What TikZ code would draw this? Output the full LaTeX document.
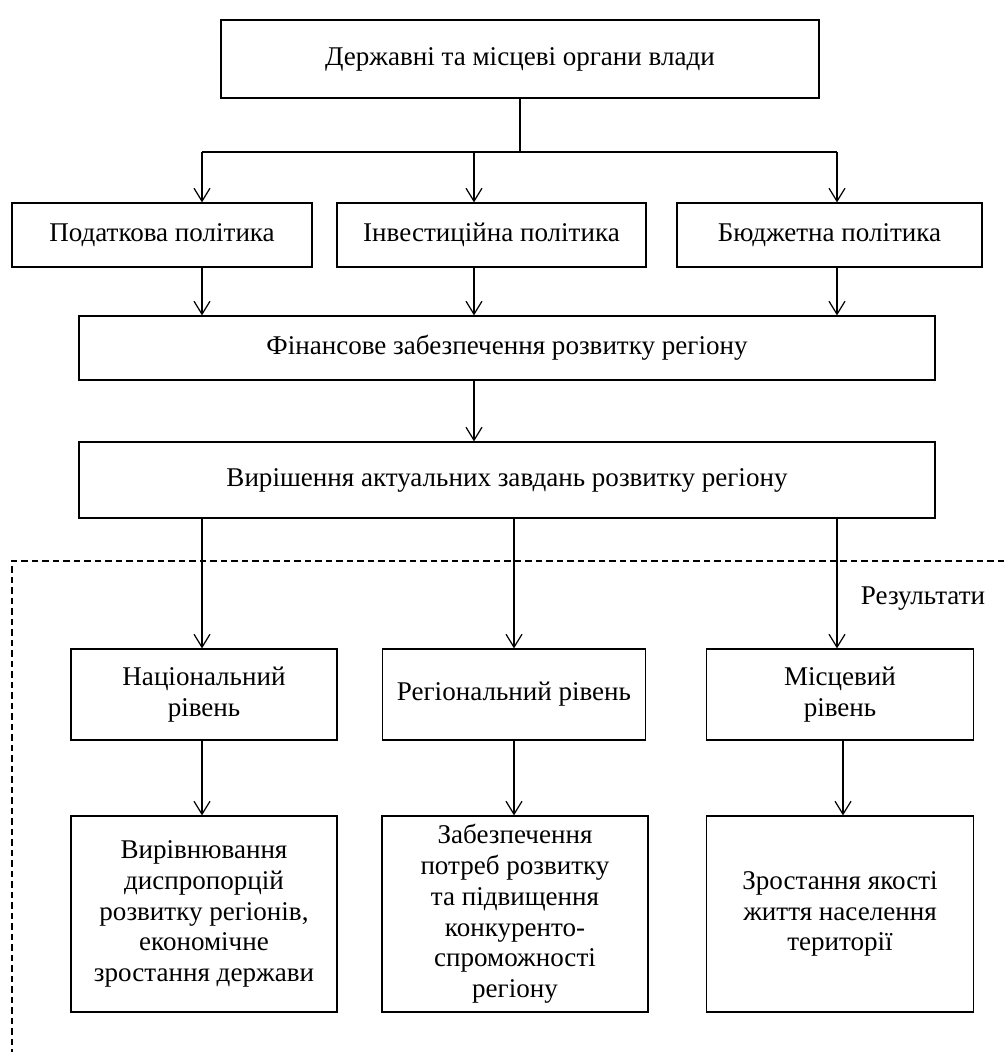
\documentclass[tikz,border=0pt]{standalone}
\usepackage{fontspec}
\setmainfont{Liberation Serif}
\usepackage{tikz}
\usetikzlibrary{
    calc,
    arrows.meta
}
\tikzset{
    box/.style={draw, rectangle, align=center, inner sep=0pt, line width=0.7pt,
        font=\fontsize{15.4}{17}\selectfont},
    arr/.style={-{Straight Barb[length=0.26cm,width=0.32cm,line width=0.7pt]}, line width=0.7pt},
    border/.style={dash pattern=on 0.13cm off 0.08cm, line width=0.7pt}
}
\newcommand{\brk}{\\[0.5pt]}

\begin{document}
\begin{tikzpicture}[x=0.02cm, y=-0.02cm]
        \useasboundingbox (0,0) rectangle (1004,1052);

        \draw (520,59) node[box, minimum width=11.96cm, minimum height=1.56cm](top){Державні та місцеві органи влади};

        \draw (162,235) node[box, minimum width=6cm, minimum height=1.28cm](tax){Податкова політика};
        \draw (491.5,235) node[box, minimum width=6.18cm, minimum height=1.28cm](inv){Інвестиційна політика};
        \draw (829.5,235) node[box, minimum width=6.1cm, minimum height=1.28cm](bud){Бюджетна політика};

        \draw (507,348) node[box, minimum width=17.12cm, minimum height=1.28cm](fin){Фінансове забезпечення розвитку регіону};
        \draw (507,480) node[box, minimum width=17.12cm, minimum height=1.52cm](task){Вирішення актуальних завдань розвитку регіону};

        \draw (204,694.5) node[box, minimum width=5.32cm, minimum height=1.82cm](nat){Національний\brk рівень};
        \draw (514,694.5) node[box, minimum width=5.26cm, minimum height=1.82cm](reg){Регіональний рівень};
        \draw (840,694.5) node[box, minimum width=5.34cm, minimum height=1.82cm](loc){Місцевий\brk рівень};

        \draw (204,914) node[box, minimum width=5.32cm, minimum height=3.92cm](natres){Вирівнювання\brk диспропорцій\brk розвитку регіонів,\brk економічне\brk зростання держави};
        \draw (515,914) node[box, minimum width=5.32cm, minimum height=3.92cm](regres){Забезпечення\brk потреб розвитку\brk та підвищення\brk конкуренто-\brk спроможності\brk регіону};
        \draw (840,914) node[box, minimum width=5.34cm, minimum height=3.92cm](locres){Зростання якості\brk життя населення\brk території};

        % results area
        \draw[border] (1004,561) -| (12,1052);
        \draw (923,599) node[font=\fontsize{15.4}{17}\selectfont](res){Результати};

        \coordinate (b1) at (202,152);
        \coordinate (b2) at (474,152);
        \coordinate (b3) at (837,152);
        \coordinate (b4) at (843,780);

        \draw[line width=0.7pt] (top.south) -- (top.south |- b1);
        \draw[line width=0.7pt] (b1) -- (b3);
        \draw[arr] (b1) -- (b1 |- tax.north);
        \draw[arr] (b2) -- (b2 |- inv.north);
        \draw[arr] (b3) -- (b3 |- bud.north);

        \draw[arr] (b1 |- tax.south) -- (b1 |- fin.north);
        \draw[arr] (b2 |- inv.south) -- (b2 |- fin.north);
        \draw[arr] (b3 |- bud.south) -- (b3 |- fin.north);
        \draw[arr] (b2 |- fin.south) -- (b2 |- task.north);

        \draw[arr] (b1 |- task.south) -- (b1 |- nat.north);
        \draw[arr] (reg.north |- task.south) -- (reg.north);
        \draw[arr] (b3 |- task.south) -- (b3 |- loc.north);

        \draw[arr] (b1 |- nat.south) -- (b1 |- natres.north);
        \draw[arr] (reg.south) -- (reg.south |- regres.north);
        \draw[arr] (b4 |- loc.south) -- (b4 |- locres.north);
    \end{tikzpicture}
\end{document}
